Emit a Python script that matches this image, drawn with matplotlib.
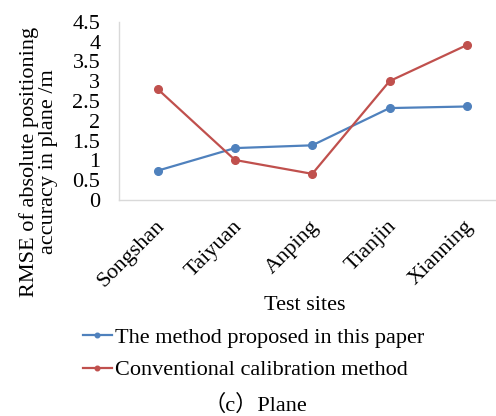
import matplotlib
matplotlib.use('Agg')
import matplotlib.pyplot as plt
import matplotlib.transforms as mtransforms

# values
sites = ['Songshan', 'Taiyuan', 'Anping', 'Tianjin', 'Xianning']
proposed = [0.74, 1.31, 1.38, 2.32, 2.36]
conventional = [2.80, 1.01, 0.66, 3.00, 3.91]
yticks = [0, 0.5, 1, 1.5, 2, 2.5, 3, 3.5, 4, 4.5]

plt.rcParams['font.family'] = ['Liberation Serif', 'Noto Sans CJK SC']
fs = 16

W, H = 496, 416
fig = plt.figure(figsize=(W / 100, H / 100), dpi=100)
# axes placed in pixel terms, right edge runs past the figure like the reference
ax = fig.add_axes([119 / W, (H - 200) / H, 386.5 / W, 178.3 / H])

x = list(range(len(sites)))
ax.plot(x, proposed, '-o', color='#4F81BD', lw=1.6, ms=5.5, label='The method proposed in this paper')
ax.plot(x, conventional, '-o', color='#C0504D', lw=1.6, ms=5.5, label='Conventional calibration method')

ax.set_xlim(-0.5, 4.5)
ax.set_ylim(0, 4.5)
ax.set_yticks(yticks)
ax.set_yticklabels([f'{v:g}' for v in yticks], fontsize=fs)
ax.set_xticks(x)
ax.set_xticklabels(sites, fontsize=fs, rotation=45, ha='right', va='center', rotation_mode='anchor')
ax.tick_params(axis='both', length=0)
ax.tick_params(axis='y', pad=13.5)
ax.tick_params(axis='x', pad=17)

# nudge rotated labels a little to the right
shift = mtransforms.ScaledTranslation(4 / 100, 0, fig.dpi_scale_trans)
for lbl in ax.get_xticklabels():
    lbl.set_transform(lbl.get_transform() + shift)

for side in ['top', 'right']:
    ax.spines[side].set_visible(False)
for side in ['left', 'bottom']:
    ax.spines[side].set_color('#D9D9D9')
    ax.spines[side].set_linewidth(1.0)

ax.set_ylabel('RMSE of absolute positioning\naccuracy in plane /m', fontsize=fs, linespacing=1.0)
ax.yaxis.set_label_coords((58 - 119) / 386.5, (200 - 162) / 178.3)

fig.text(305 / W, 1 - 305 / H, 'Test sites', fontsize=fs, ha='center', va='center')

fig.legend(loc='upper left', bbox_to_anchor=(83 / W, 1 - 327 / H), frameon=False, fontsize=fs,
           handlelength=1.3, handletextpad=0.15, labelspacing=0.55, borderpad=0, borderaxespad=0,
           markerscale=0.6)

fig.text(255 / W, 1 - 405 / H, '（c）Plane', fontsize=fs, ha='center', va='center')

fig.savefig('out.png', dpi=100)
